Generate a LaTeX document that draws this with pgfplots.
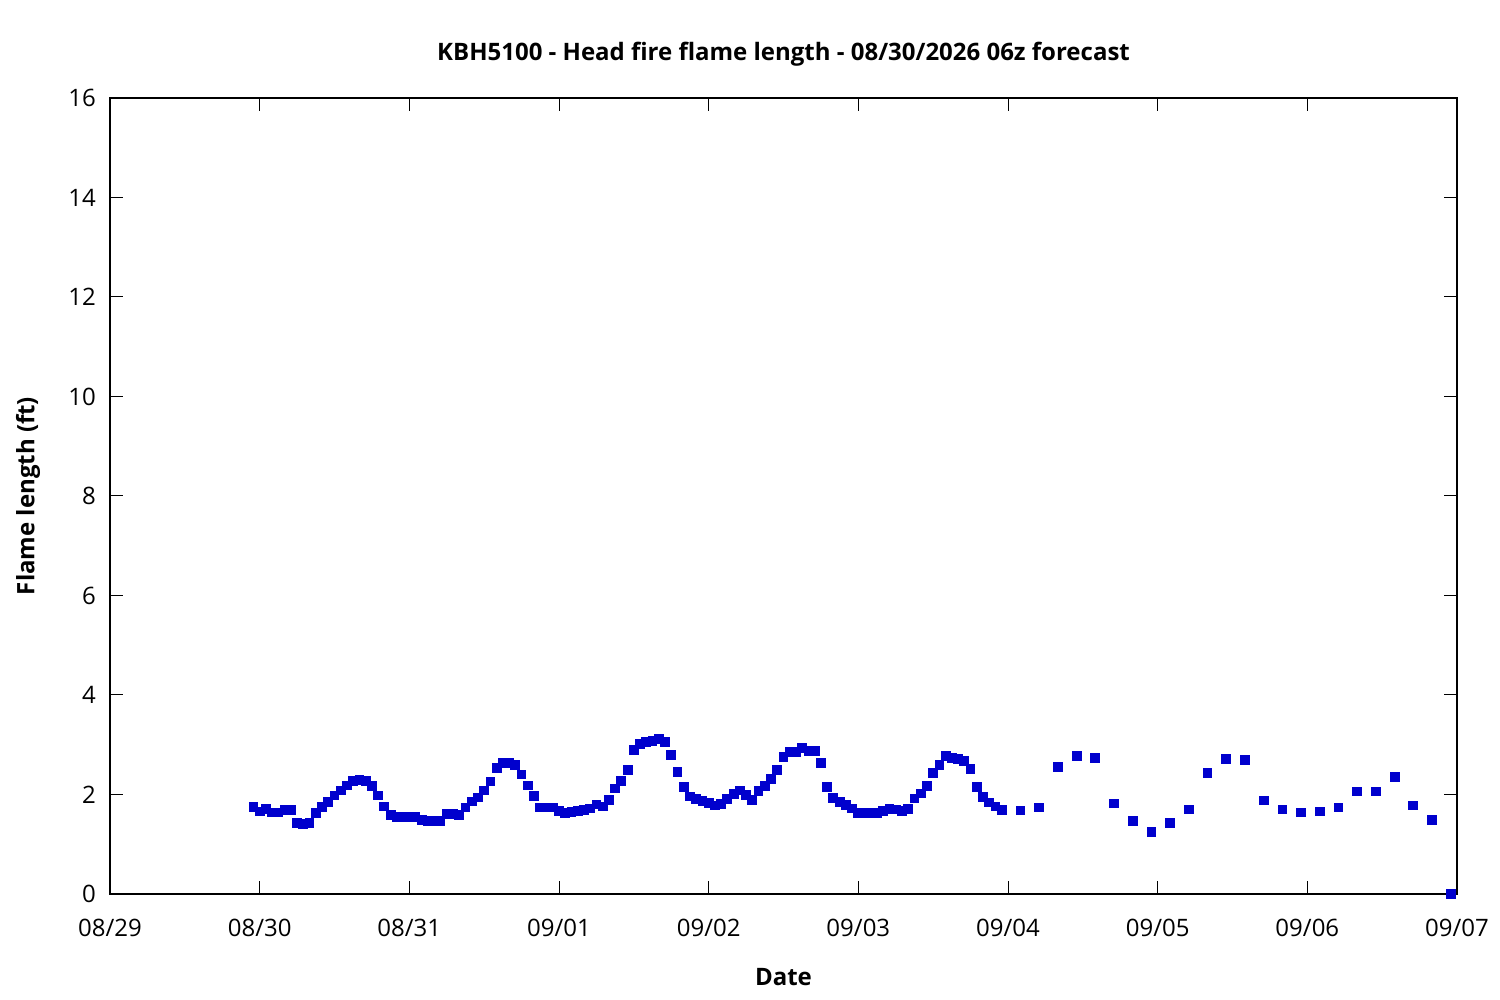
\documentclass[border=0pt]{standalone}
\usepackage{fontspec}
\setmainfont{Open Sans}
\usepackage{pgfplots}
\pgfplotsset{compat=1.18}
\definecolor{ptblue}{RGB}{0,0,205}
\begin{document}
\begin{tikzpicture}
\begin{axis}[
  name=ax,
  scale only axis,
  width=673.5pt, height=398pt,
  xmin=0, xmax=216, ymin=0, ymax=16,
  xtick={0,24,...,216},
  xticklabels={08/29,08/30,08/31,09/01,09/02,09/03,09/04,09/05,09/06,09/07},
  ytick={0,2,...,16},
  tick align=inside,
  major tick length=6.3pt,
  minor tick num=0,
  axis line style={line width=0.6pt},
  every tick/.style={black,line width=0.5pt},
  /pgf/number format/assume math mode=true,
  tick label style={font=\fontsize{12}{14}\selectfont},
  xticklabel style={yshift=-9pt},
  yticklabel style={xshift=-3.5pt},
  title={\bfseries KBH5100 - Head fire flame length - 08/30/2026 06z forecast},
  title style={font=\fontsize{12}{14}\selectfont, at={(axis description cs:0.5,1.04)}, anchor=center},
  xlabel={\bfseries Date},
  xlabel style={font=\fontsize{12}{14}\selectfont, at={(axis description cs:0.5,-0.1043)}, anchor=center},
  ylabel={\bfseries Flame length (ft)},
  ylabel style={font=\fontsize{12}{14}\selectfont, at={(axis description cs:-0.0609,0.5)}, anchor=center, rotate=0},
  clip=false,
]
\addplot[only marks, mark=square*, mark size=2.2pt, color=ptblue, mark options={draw=ptblue, fill=ptblue, line width=0pt}] coordinates {
(23,1.75)(24,1.66)(25,1.71)(26,1.64)(27,1.64)(28,1.69)(29,1.69)(30,1.42)(31,1.40)(32,1.42)
(33,1.62)(34,1.75)(35,1.85)(36,1.98)(37,2.08)(38,2.18)(39,2.27)(40,2.29)(41,2.27)(42,2.17)
(43,1.98)(44,1.76)(45,1.58)(46,1.54)(47,1.54)(48,1.54)(49,1.54)(50,1.49)(51,1.46)(52,1.46)
(53,1.46)(54,1.60)(55,1.60)(56,1.58)(57,1.74)(58,1.86)(59,1.94)(60,2.08)(61,2.26)(62,2.53)
(63,2.63)(64,2.63)(65,2.59)(66,2.40)(67,2.18)(68,1.97)(69,1.74)(70,1.74)(71,1.74)(72,1.67)
(73,1.62)(74,1.65)(75,1.67)(76,1.69)(77,1.72)(78,1.80)(79,1.76)(80,1.89)(81,2.12)(82,2.27)
(83,2.49)(84,2.89)(85,3.02)(86,3.05)(87,3.08)(88,3.11)(89,3.05)(90,2.79)(91,2.45)(92,2.15)
(93,1.96)(94,1.91)(95,1.87)(96,1.83)(97,1.78)(98,1.81)(99,1.91)(100,2.01)(101,2.08)(102,1.99)
(103,1.89)(104,2.07)(105,2.17)(106,2.31)(107,2.50)(108,2.75)(109,2.85)(110,2.85)(111,2.93)(112,2.87)
(113,2.87)(114,2.63)(115,2.15)(116,1.93)(117,1.85)(118,1.79)(119,1.72)(120,1.62)(121,1.62)(122,1.62)
(123,1.62)(124,1.67)(125,1.71)(126,1.70)(127,1.67)(128,1.71)(129,1.92)(130,2.02)(131,2.17)(132,2.43)
(133,2.59)(134,2.77)(135,2.73)(136,2.71)(137,2.67)(138,2.51)(139,2.15)(140,1.95)(141,1.84)(142,1.76)
(143,1.69)
(146,1.68)(149,1.74)(152,2.55)(155,2.77)(158,2.73)(161,1.82)(164,1.46)(167,1.24)
(170,1.42)(173,1.70)(176,2.43)(179,2.71)(182,2.69)(185,1.88)(188,1.70)(191,1.64)
(194,1.66)(197,1.74)(200,2.06)(203,2.06)(206,2.35)(209,1.78)(212,1.48)(215,0.00)
};
\end{axis}
\pgfresetboundingbox
\path (ax.south west) ++(-55pt,-53pt) rectangle ([shift={(21.5pt,49pt)}]ax.north east);
\end{tikzpicture}
\end{document}
